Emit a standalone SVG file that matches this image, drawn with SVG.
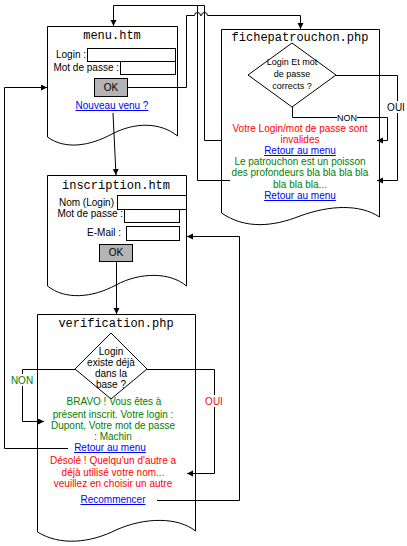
<svg xmlns="http://www.w3.org/2000/svg" width="407" height="546" viewBox="0 0 407 546">
<style>
.doc{fill:#fff;stroke:#000;stroke-width:1}
.inp{fill:#fff;stroke:#000;stroke-width:1}
.btn{fill:#b4b4b4;stroke:#000;stroke-width:1}
.dia{fill:#fff;stroke:#000;stroke-width:1}
.ttl{font-family:"Liberation Mono","Courier New",monospace;font-size:12px;fill:#000;text-anchor:middle}
.t{font-family:"Liberation Sans",Arial,sans-serif;font-size:10px;fill:#000}
.s{font-size:9px}
.c{text-anchor:middle}
.e{text-anchor:end}
.red{fill:#ff0000}
.grn{fill:#008000}
.lnk{fill:#0000ff;text-decoration:underline}
.cn{fill:none;stroke:#000;stroke-width:1}
.bg{fill:#fff;stroke:none}
</style>
<defs>
<marker id="ah" markerUnits="userSpaceOnUse" markerWidth="7" markerHeight="7" refX="6" refY="3" orient="auto">
<path d="M0,0 L6,3 L0,6 Z" fill="#000"/>
</marker>
</defs>

<g id="menu">
<path class="doc" d="M47.5,26.5 H177.5 V136 C160,122 135,122 112,134 C90,146 65,150 47.5,137 Z"/>
<text class="ttl" x="112" y="39">menu.htm</text>
<text class="t e" x="86" y="58">Login :</text>
<rect class="inp" x="87.5" y="48.5" width="88" height="13"/>
<text class="t e" x="119" y="71">Mot de passe :</text>
<rect class="inp" x="120.5" y="61.5" width="55" height="13"/>
<rect class="btn" x="94.5" y="78.5" width="33" height="18"/>
<text class="t c" x="111" y="91">OK</text>
<text class="t c lnk" x="112" y="109">Nouveau venu ?</text>
</g>

<g id="fichepatrouchon">
<path class="doc" d="M221.5,29.5 H379.5 V217 C360,204 330,205 300,216 C272,227 245,229 221.5,213 Z"/>
<text class="ttl" x="300" y="41">fichepatrouchon.php</text>
<polygon class="dia" points="292,43 336,75 292,107 248,75"/>
<text class="t c s" x="292" y="65">Login Et mot</text>
<text class="t c s" x="292" y="77">de passe</text>
<text class="t c s" x="292" y="89">corrects ?</text>
<text class="t c red" x="300" y="132">Votre Login/mot de passe sont</text>
<text class="t c red" x="300" y="142.5">invalides</text>
<text class="t c lnk" x="300" y="154">Retour au menu</text>
<text class="t c grn" x="300" y="165">Le patrouchon est un poisson</text>
<text class="t c grn" x="300" y="176">des profondeurs bla bla bla bla</text>
<text class="t c grn" x="300" y="188">bla bla bla...</text>
<text class="t c lnk" x="300" y="199">Retour au menu</text>
</g>

<g id="inscription">
<path class="doc" d="M47.5,175.5 H186.5 V286 C170,272 140,272 116,285 C92,298 65,300 47.5,286 Z"/>
<text class="ttl" x="116" y="189">inscription.htm</text>
<text class="t e" x="114" y="206">Nom (Login)</text>
<rect class="inp" x="117.5" y="195.5" width="69" height="14"/>
<text class="t e" x="123" y="217">Mot de passe :</text>
<rect class="inp" x="124.5" y="209.5" width="55" height="13"/>
<text class="t e" x="121" y="236">E-Mail :</text>
<rect class="inp" x="126.5" y="226.5" width="53" height="14"/>
<rect class="btn" x="99.5" y="244.5" width="33" height="17"/>
<text class="t c" x="116" y="256">OK</text>
</g>

<g id="verification">
<path class="doc" d="M37.5,314.5 H195.5 V531 C178,517 145,517 116,530 C90,543 60,546 37.5,532 Z"/>
<text class="ttl" x="116" y="327">verification.php</text>
<polygon class="dia" points="111,333 147,369 111,399 75,369"/>
<text class="t c" x="111" y="355">Login</text>
<text class="t c" x="111" y="366">existe déjà</text>
<text class="t c" x="111" y="377">dans la</text>
<text class="t c" x="111" y="388">base ?</text>
<text class="t c grn" x="114" y="405">BRAVO ! Vous êtes à</text>
<text class="t c grn" x="113" y="418">présent inscrit. Votre login :</text>
<text class="t c grn" x="113" y="429">Dupont, Votre mot de passe</text>
<text class="t c grn" x="113" y="440">: Machin</text>
<text class="t c lnk" x="110" y="451">Retour au menu</text>
<text class="t c red" x="113" y="464">Désolé ! Quelqu'un d'autre a</text>
<text class="t c red" x="113" y="476">déjà utilisé votre nom...</text>
<text class="t c red" x="113" y="487">veuillez en choisir un autre</text>
<text class="t c lnk" x="113" y="503">Recommencer</text>
</g>

<g id="connectors">
<path class="cn" d="M230,180.5 H197.5 V5.5 H113.5 V26" marker-end="url(#ah)"/>
<path class="cn" d="M221,140.5 H204.5 V5.5 H197.5"/>
<path class="cn" d="M127.5,87.5 H186.5 V15.5 H194.5 A3,3 0 0 1 200.5,15.5 H201.5 A3,3 0 0 1 207.5,15.5 H300.5 V29" marker-end="url(#ah)"/>
<path class="cn" d="M113,113 L116,175" marker-end="url(#ah)"/>
<path class="cn" d="M336,75.5 H397.5 V180.5 H377" marker-end="url(#ah)"/>
<path class="cn" d="M292.5,107 V117.5 H387.5 V140.5 H377" marker-end="url(#ah)"/>
<path class="cn" d="M116.5,262 V314" marker-end="url(#ah)"/>
<path class="cn" d="M68,448.5 H4.5 V87.5 H47" marker-end="url(#ah)"/>
<path class="cn" d="M157,500.5 H239.5 V236.5 H187" marker-end="url(#ah)"/>
<path class="cn" d="M75,369.5 H22.5 V421.5 H44" marker-end="url(#ah)"/>
<path class="cn" d="M147,369.5 H214.5 V473.5 H187" marker-end="url(#ah)"/>
<g id="labels">
<rect class="bg" x="337" y="112" width="20" height="10"/>
<text class="t c s" x="347" y="120.5">NON</text>
<rect class="bg" x="388" y="101" width="17" height="12"/>
<text class="t c" x="396" y="111">OUI</text>
<rect class="bg" x="11" y="374" width="23" height="12"/>
<text class="t c grn" x="22" y="384">NON</text>
<rect class="bg" x="205" y="395" width="19" height="12"/>
<text class="t c red" x="214" y="405">OUI</text>
</g>
</g>
</svg>
